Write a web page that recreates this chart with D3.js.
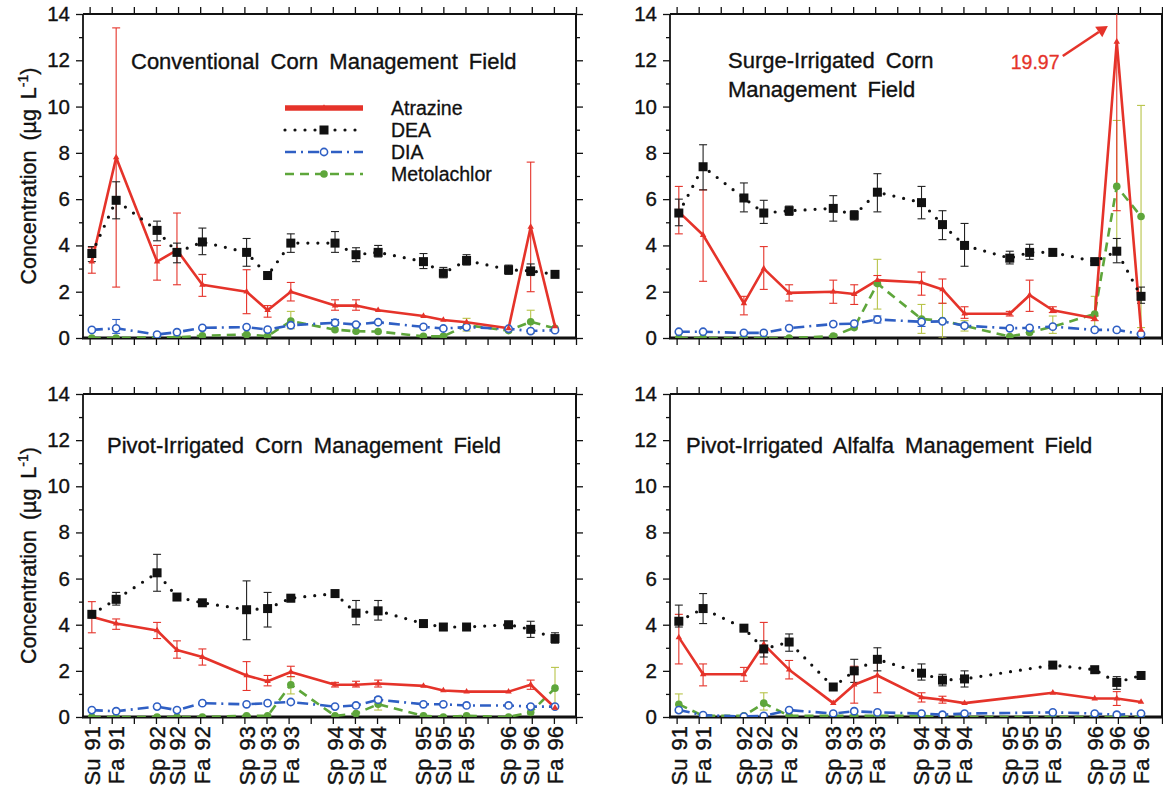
<!DOCTYPE html>
<html>
<head>
<meta charset="utf-8">
<script src="https://cdn.jsdelivr.net/npm/d3@7/dist/d3.min.js"></script>
<style>
  body { margin: 0; background: #fff; }
  svg { display: block; font-family: "Liberation Sans", Arial, sans-serif; }
  svg text { stroke: currentColor; }
</style>
</head>
<body>
<div id="vis"></div>
<script>
// == DATA ==
const seasons = ["Su 91", "Fa 91", "Sp 92", "Su 92", "Fa 92", "Sp 93", "Su 93", "Fa 93",
                 "Sp 94", "Su 94", "Fa 94", "Sp 95", "Su 95", "Fa 95", "Sp 96", "Su 96", "Fa 96"];
// sampling dates in quarter units, 0 = summer 91
const sampleX = [0.1, 1.2, 3.05, 3.95, 5.1, 7.1, 8.05, 9.1, 11.1, 12.05, 13.05, 15.1, 16.0, 17.05, 18.95, 19.95, 21.05];
const quarterTicks = d3.range(0, 23);
const yMajor = [0, 2, 4, 6, 8, 10, 12, 14];
const yMinor = [1, 3, 5, 7, 9, 11, 13];
const seriesNames = ["Atrazine", "DEA", "DIA", "Metolachlor"];

// Conventional corn
const convAtrazine = [3.3, 7.8, 3.3, 3.8, 2.3, 2.0, 1.2, 2.0, 1.4, 1.4, 1.2, 0.95, 0.78, 0.68, 0.42, 4.8, 0.5];
const convAtrazineErr = [[2.8, 3.9], [2.2, 13.4], [2.5, 4.0], [2.3, 5.4], [1.8, 2.75], [1.05, 2.95], [0.9, 1.4], [1.6, 2.4],
                         [1.2, 1.65], [1.2, 1.65], null, null, null, null, null, [2.0, 7.6], null];
const convDEA = [3.65, 5.95, 4.65, 3.7, 4.15, 3.7, 2.7, 4.1, 4.1, 3.6, 3.7, 3.3, 2.8, 3.35, 2.95, 2.9, 2.75];
const convDEAErr = [[3.3, 3.95], [5.15, 6.75], [4.2, 5.05], [3.25, 4.1], [3.6, 4.75], [3.1, 4.3], null, [3.7, 4.5],
                    [3.7, 4.6], [3.3, 3.9], [3.5, 4.0], [3.0, 3.65], [2.6, 3.05], [3.15, 3.6], [2.75, 3.15], [2.7, 3.2], null];
const convDIA = [0.35, 0.42, 0.15, 0.25, 0.44, 0.47, 0.36, 0.55, 0.66, 0.58, 0.68, 0.48, 0.41, 0.47, 0.4, 0.3, 0.34];
const convDIAErr = [null, [0.2, 0.8], null, null, null, null, null, null, [0.55, 0.8], null, null, null, null, null, null, null, null];
const convMeto = [0.0, 0.0, 0.03, 0.03, 0.1, 0.15, 0.08, 0.73, 0.36, 0.29, 0.28, 0.07, 0.07, 0.55, 0.32, 0.7, 0.42];
const convMetoErr = [null, null, null, null, null, null, null, [0.4, 1.15], null, null, null, null, null, [0.3, 0.85], null, [0.2, 1.2], null];

// Surge-irrigated corn
const surgeAtrazine = [5.45, 4.45, 1.5, 3.0, 1.95, 2.0, 1.9, 2.5, 2.4, 2.1, 1.05, 1.05, 1.85, 1.2, 0.85, 12.8, 0.35];
const surgeAtrazineErr = [[4.5, 6.55], [2.45, 6.4], [1.0, 1.8], [2.1, 3.95], [1.6, 2.3], [1.5, 2.5], [1.45, 2.3], [2.3, 2.7],
                          [1.85, 2.85], [1.5, 2.55], [0.85, 1.35], [0.95, 1.15], [1.15, 2.5], [1.1, 1.35], [0.75, 0.95], [5.5, 19.97], null];
const surgeDEA = [5.4, 7.4, 6.05, 5.4, 5.5, 5.6, 5.3, 6.3, 5.85, 4.9, 4.0, 3.45, 3.7, 3.7, 3.3, 3.75, 1.8];
const surgeDEAErr = [[4.85, 6.0], [6.4, 8.35], [5.45, 6.7], [4.95, 5.95], [5.3, 5.7], [5.05, 6.15], [5.1, 5.5], [5.45, 7.1],
                     [5.15, 6.55], [4.25, 5.5], [3.1, 4.95], [3.2, 3.75], [3.4, 4.05], [3.55, 3.85], [3.15, 3.4], [3.25, 4.3], [1.5, 2.2]];
const surgeDIA = [0.27, 0.27, 0.22, 0.22, 0.43, 0.6, 0.62, 0.8, 0.7, 0.72, 0.53, 0.42, 0.44, 0.49, 0.35, 0.35, 0.17];
const surgeDIAErr = [null, null, null, null, null, null, null, [0.65, 0.95], [0.5, 0.85], null, null, null, null, null, null, null, null];
const surgeMeto = [0.0, 0.0, 0.0, 0.0, 0.0, 0.08, 0.45, 2.35, 0.82, 0.75, 0.53, 0.06, 0.24, 0.49, 1.04, 6.55, 5.25];
const surgeMetoErr = [null, null, null, null, null, null, null, [1.25, 3.4], [0.2, 1.45], [0.0, 1.5], [0.3, 0.75], null, null,
                      [0.2, 0.95], [0.4, 1.8], [3.7, 9.4], [0.45, 10.05]];
const surgeNote = "19.97";

// Pivot-irrigated corn
const pcornAtrazine = [4.35, 4.05, 3.75, 2.9, 2.6, 1.8, 1.55, 1.95, 1.4, 1.4, 1.45, 1.35, 1.15, 1.1, 1.1, 1.4, 0.4];
const pcornAtrazineErr = [[3.65, 5.0], [3.8, 4.25], [3.4, 4.1], [2.55, 3.3], [2.25, 2.95], [1.15, 2.4], [1.35, 1.8], [1.75, 2.2],
                          [1.3, 1.5], [1.3, 1.55], [1.3, 1.6], null, null, null, null, [1.2, 1.6], null];
const pcornDEA = [4.45, 5.1, 6.25, 5.2, 4.95, 4.65, 4.7, 5.15, 5.35, 4.5, 4.6, 4.05, 3.9, 3.9, 4.0, 3.8, 3.4];
const pcornDEAErr = [null, [4.85, 5.4], [5.45, 7.05], [5.05, 5.35], null, [3.35, 5.9], [3.9, 5.4], [5.0, 5.25],
                     null, [4.0, 5.05], [4.2, 5.05], [3.95, 4.15], [3.75, 4.05], null, null, [3.45, 4.15], [3.2, 3.65]];
const pcornDIA = [0.3, 0.25, 0.45, 0.3, 0.6, 0.55, 0.6, 0.65, 0.45, 0.5, 0.75, 0.55, 0.55, 0.5, 0.5, 0.45, 0.45];
const pcornDIAErr = [null, null, null, null, null, null, null, null, null, null, [0.65, 0.85], null, null, null, null, null, null];
const pcornMeto = [0.0, 0.0, 0.0, 0.0, 0.0, 0.05, 0.05, 1.4, 0.05, 0.15, 0.55, 0.05, 0.0, 0.05, 0.0, 0.2, 1.25];
const pcornMetoErr = [null, null, null, null, null, null, null, [1.0, 1.75], null, null, [0.3, 0.8], null, null, null, null, null, [0.4, 2.15]];

// Pivot-irrigated alfalfa (no samples spring/summer 95)
const alfAtrazine = [3.45, 1.85, 1.85, 3.15, 2.05, 0.6, 1.4, 1.8, 0.85, 0.75, 0.6, null, null, 1.05, 0.8, 0.8, 0.65];
const alfAtrazineErr = [[2.3, 4.45], [1.35, 2.3], [1.55, 2.15], [2.3, 4.1], [1.65, 2.45], null, [0.6, 2.2], [1.05, 2.5],
                        [0.65, 1.05], [0.6, 0.9], null, null, null, null, null, [0.5, 1.1], null];
const alfDEA = [4.15, 4.7, 3.85, 2.95, 3.25, 1.3, 2.0, 2.5, 1.9, 1.6, 1.65, null, null, 2.25, 2.05, 1.5, 1.8];
const alfDEAErr = [[3.9, 4.85], [4.05, 5.35], [3.75, 3.95], [2.6, 3.3], [2.85, 3.6], null, [1.5, 2.5], [2.0, 3.0],
                   [1.6, 2.3], [1.35, 1.85], [1.3, 2.0], null, null, null, null, [1.2, 1.75], null];
const alfDIA = [0.3, 0.08, 0.02, 0.05, 0.3, 0.15, 0.25, 0.2, 0.15, 0.1, 0.15, null, null, 0.2, 0.15, 0.1, 0.15];
const alfDIAErr = [null, null, null, null, null, null, null, null, null, null, null, null, null, null, null, null, null];
const alfMeto = [0.55, 0.05, 0.05, 0.6, 0.05, 0.05, 0.05, 0.05, 0.05, 0.0, 0.0, null, null, 0.0, 0.0, 0.0, 0.0];
const alfMetoErr = [[0.2, 1.0], null, null, [0.3, 1.05], null, null, null, null, null, null, null, null, null, null, null, null, null];

// == STYLE ==
const red = "#e5332a", blue = "#2f5fc4", green = "#5ea63b", metoBar = "#b8c44a";
const ink = "#111";

const svg = d3.select("#vis").append("svg")
  .attr("width", 1163).attr("height", 793)
  .style("color", ink);

const panels = [
  { id: "conv", title: ["Conventional  Corn  Management  Field"], left: 83, right: 576, top: 14, bottom: 338,
    titleX: 48, titleY: 55,
    atr: convAtrazine, atrE: convAtrazineErr, dea: convDEA, deaE: convDEAErr, dia: convDIA, diaE: convDIAErr,
    met: convMeto, metE: convMetoErr, yLabel: true, xLabels: false, legend: true },
  { id: "surge", title: ["Surge-Irrigated  Corn", "Management  Field"], left: 670, right: 1162, top: 14, bottom: 338,
    titleX: 58, titleY: 54,
    atr: surgeAtrazine, atrE: surgeAtrazineErr, dea: surgeDEA, deaE: surgeDEAErr, dia: surgeDIA, diaE: surgeDIAErr,
    met: surgeMeto, metE: surgeMetoErr, yLabel: false, xLabels: false, note: true },
  { id: "pcorn", title: ["Pivot-Irrigated  Corn  Management  Field"], left: 83, right: 576, top: 394, bottom: 717,
    titleX: 24, titleY: 59,
    atr: pcornAtrazine, atrE: pcornAtrazineErr, dea: pcornDEA, deaE: pcornDEAErr, dia: pcornDIA, diaE: pcornDIAErr,
    met: pcornMeto, metE: pcornMetoErr, yLabel: true, xLabels: true },
  { id: "alf", title: ["Pivot-Irrigated  Alfalfa  Management  Field"], left: 670, right: 1162, top: 394, bottom: 717,
    titleX: 16, titleY: 59,
    atr: alfAtrazine, atrE: alfAtrazineErr, dea: alfDEA, deaE: alfDEAErr, dia: alfDIA, diaE: alfDIAErr,
    met: alfMeto, metE: alfMetoErr, yLabel: false, xLabels: true }
];

panels.forEach(drawPanel);

function pts(vals, errs) {
  return vals.map((v, i) => ({ x: sampleX[i], v: v, e: errs ? errs[i] : null }))
             .filter(d => d.v != null);
}

function drawPanel(p) {
  const x = d3.scaleLinear().domain([-0.3, 22]).range([p.left, p.right]);
  const y = d3.scaleLinear().domain([0, 14]).range([p.bottom, p.top]);
  const g = svg.append("g");

  svg.append("clipPath").attr("id", "clip-" + p.id)
    .append("rect")
    .attr("x", p.left).attr("y", p.top)
    .attr("width", p.right - p.left).attr("height", p.bottom - p.top);

  // axes
  const yLeft = g.append("g").attr("transform", `translate(${p.left},0)`)
    .call(d3.axisLeft(y).tickValues(yMajor).tickSize(7).tickPadding(6).tickFormat(d3.format("d")));
  g.append("g").attr("transform", `translate(${p.left},0)`)
    .call(d3.axisLeft(y).tickValues(yMinor).tickSize(4).tickFormat(""));
  g.append("g").attr("transform", `translate(${p.right},0)`)
    .call(d3.axisRight(y).tickValues(yMajor).tickSize(7).tickFormat(""));
  g.append("g").attr("transform", `translate(${p.right},0)`)
    .call(d3.axisRight(y).tickValues(yMinor).tickSize(4).tickFormat(""));
  g.append("g").attr("transform", `translate(0,${p.top})`)
    .call(d3.axisTop(x).tickValues(quarterTicks).tickSize(7).tickFormat(""));
  g.append("g").attr("transform", `translate(0,${p.bottom})`)
    .call(d3.axisBottom(x).tickValues(quarterTicks).tickSize(7).tickFormat(""));

  g.selectAll(".domain").remove();
  g.selectAll(".tick line").attr("stroke", ink).attr("stroke-width", 1.3);
  yLeft.selectAll("text").attr("font-size", 20.5).attr("fill", ink)
    .attr("stroke-width", 0.35)
    .attr("font-family", "Liberation Sans, Arial, sans-serif");

  // frame
  g.append("line").attr("x1", p.left).attr("x2", p.right).attr("y1", p.top).attr("y2", p.top)
    .attr("stroke", ink).attr("stroke-width", 1.8);
  g.append("line").attr("x1", p.right).attr("x2", p.right).attr("y1", p.top).attr("y2", p.bottom)
    .attr("stroke", ink).attr("stroke-width", 2);
  g.append("line").attr("x1", p.left).attr("x2", p.left).attr("y1", p.top).attr("y2", p.bottom)
    .attr("stroke", ink).attr("stroke-width", 1.8);
  g.append("line").attr("x1", p.left - 1).attr("x2", p.right + 1).attr("y1", p.bottom).attr("y2", p.bottom)
    .attr("stroke", ink).attr("stroke-width", 2.8);

  if (p.yLabel) {
    const t = g.append("text")
      .attr("transform", `translate(${p.left - 47},${(p.top + p.bottom) / 2}) rotate(-90)`)
      .attr("text-anchor", "middle").attr("font-size", 21.5).attr("fill", ink)
      .attr("stroke-width", 0.35).attr("word-spacing", 4);
    t.append("tspan").text("Concentration  (\u00b5g L");
    t.append("tspan").attr("font-size", 14).attr("dy", -8).text("-1");
    t.append("tspan").attr("dy", 8).text(")");
  }

  if (p.xLabels) {
    g.selectAll(".xlab").data(seasons).enter().append("text")
      .attr("transform", (d, i) => `translate(${x(sampleX[i])},${p.bottom + 9}) rotate(-90)`)
      .attr("text-anchor", "end").attr("dy", "0.36em")
      .attr("font-size", 22).attr("fill", ink).attr("stroke-width", 0.35)
      .attr("word-spacing", 2)
      .text(d => d);
  }

  // title
  g.selectAll(".title").data(p.title).enter().append("text")
    .attr("x", p.left + p.titleX)
    .attr("y", (d, i) => p.top + p.titleY + i * 29)
    .attr("font-size", 22).attr("fill", ink).attr("stroke-width", 0.35)
    .attr("word-spacing", 5)
    .text(d => d);

  const plot = g.append("g").attr("clip-path", `url(#clip-${p.id})`);
  const line = d3.line().x(d => x(d.x)).y(d => y(d.v));

  const series = [
    { key: "met", data: pts(p.met, p.metE), color: green, bar: metoBar, dash: "9 6", width: 2.6 },
    { key: "dia", data: pts(p.dia, p.diaE), color: blue, bar: blue, dash: "11 5 2 5", width: 2.6 },
    { key: "atr", data: pts(p.atr, p.atrE), color: red, bar: red, dash: null, width: 2.6 },
    { key: "dea", data: pts(p.dea, p.deaE), color: ink, bar: "#222", dash: "0 10", width: 3.2, cap: "round" }
  ];

  // error bars
  series.forEach(s => {
    const eb = plot.append("g").attr("stroke", s.bar).attr("stroke-width", 1.1).attr("fill", "none");
    s.data.filter(d => d.e).forEach(d => {
      const cx = x(d.x);
      eb.append("line").attr("x1", cx).attr("x2", cx).attr("y1", y(d.e[0])).attr("y2", y(d.e[1]));
      eb.append("line").attr("x1", cx - 4).attr("x2", cx + 4).attr("y1", y(d.e[0])).attr("y2", y(d.e[0]));
      eb.append("line").attr("x1", cx - 4).attr("x2", cx + 4).attr("y1", y(d.e[1])).attr("y2", y(d.e[1]));
    });
  });

  // lines
  series.forEach(s => {
    plot.append("path").datum(s.data)
      .attr("d", line).attr("fill", "none")
      .attr("stroke", s.color).attr("stroke-width", s.width)
      .attr("stroke-dasharray", s.dash)
      .attr("stroke-linecap", s.cap || "butt")
      .attr("stroke-linejoin", "round");
  });

  // markers
  const mk = plot.append("g");
  mk.selectAll(".met").data(series[0].data).enter().append("circle")
    .attr("cx", d => x(d.x)).attr("cy", d => y(d.v)).attr("r", 3.8).attr("fill", green);
  mk.selectAll(".dia").data(series[1].data).enter().append("circle")
    .attr("cx", d => x(d.x)).attr("cy", d => y(d.v)).attr("r", 3.6)
    .attr("fill", "#fff").attr("stroke", blue).attr("stroke-width", 1.6);
  mk.selectAll(".atr").data(series[2].data).enter().append("path")
    .attr("d", d3.symbol(d3.symbolTriangle, 18))
    .attr("transform", d => `translate(${x(d.x)},${y(d.v)})`).attr("fill", red);
  mk.selectAll(".dea").data(series[3].data).enter().append("rect")
    .attr("x", d => x(d.x) - 4.5).attr("y", d => y(d.v) - 4.5)
    .attr("width", 9).attr("height", 9).attr("fill", ink);

  if (p.legend) drawLegend(g);

  if (p.note) {
    const i = seasons.indexOf("Su 96");
    const tx = x(sampleX[i]);
    g.append("text").attr("x", tx - 106).attr("y", p.top + 55)
      .attr("font-size", 19.5).attr("fill", red).style("color", red).attr("stroke-width", 0.3)
      .text(surgeNote);
    g.append("line")
      .attr("x1", tx - 54).attr("y1", p.top + 42)
      .attr("x2", tx - 18).attr("y2", p.top + 18)
      .attr("stroke", red).attr("stroke-width", 2.6);
    g.append("path")
      .attr("d", d3.symbol(d3.symbolTriangle, 70))
      .attr("transform", `translate(${tx - 15},${p.top + 16}) rotate(56)`)
      .attr("fill", red);
  }
}

function drawLegend(g) {
  const x0 = 285, x1 = 363, tx = 391;
  const rows = [108, 130, 152, 174];
  const lg = g.append("g");
  // Atrazine
  lg.append("line").attr("x1", x0).attr("x2", x1).attr("y1", rows[0]).attr("y2", rows[0])
    .attr("stroke", red).attr("stroke-width", 5.5);
  lg.append("path").attr("d", d3.symbol(d3.symbolTriangle, 18))
    .attr("transform", `translate(${(x0 + x1) / 2},${rows[0]})`).attr("fill", red);
  // DEA
  lg.append("line").attr("x1", x0).attr("x2", x1).attr("y1", rows[1]).attr("y2", rows[1])
    .attr("stroke", ink).attr("stroke-width", 3.2).attr("stroke-dasharray", "0 10").attr("stroke-linecap", "round");
  lg.append("rect").attr("x", (x0 + x1) / 2 - 4.5).attr("y", rows[1] - 4.5).attr("width", 9).attr("height", 9).attr("fill", ink);
  // DIA
  lg.append("line").attr("x1", x0).attr("x2", x1).attr("y1", rows[2]).attr("y2", rows[2])
    .attr("stroke", blue).attr("stroke-width", 2.6).attr("stroke-dasharray", "11 5 2 5");
  lg.append("circle").attr("cx", (x0 + x1) / 2).attr("cy", rows[2]).attr("r", 3.6)
    .attr("fill", "#fff").attr("stroke", blue).attr("stroke-width", 1.6);
  // Metolachlor
  lg.append("line").attr("x1", x0).attr("x2", x1).attr("y1", rows[3]).attr("y2", rows[3])
    .attr("stroke", green).attr("stroke-width", 2.6).attr("stroke-dasharray", "9 6");
  lg.append("circle").attr("cx", (x0 + x1) / 2).attr("cy", rows[3]).attr("r", 3.8).attr("fill", green);

  lg.selectAll(".lt").data(seriesNames).enter().append("text")
    .attr("x", tx).attr("y", (d, i) => rows[i]).attr("dy", "0.36em")
    .attr("font-size", 19.5).attr("fill", ink).attr("stroke-width", 0.3).text(d => d);
}
</script>
</body>
</html>
